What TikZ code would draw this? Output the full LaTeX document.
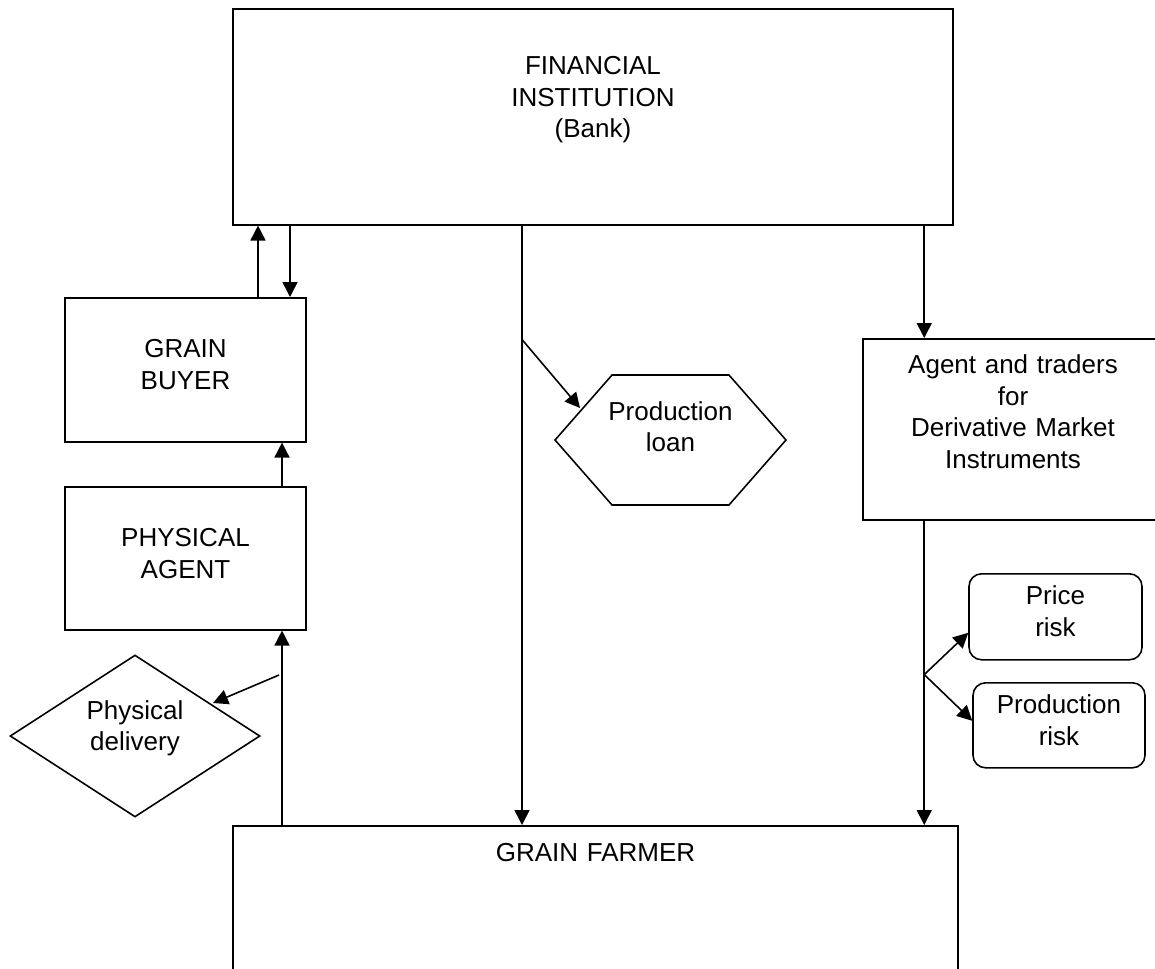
\documentclass[tikz,border=0pt]{standalone}
\usepackage{fontspec}
\setmainfont{Liberation Sans}
\usepackage{tikz}
\usetikzlibrary{shapes.geometric,shapes.symbols,arrows.meta,positioning}

\begin{document}
\begin{tikzpicture}[
  x=0.02cm, y=-0.02cm,
  box/.style={draw, line width=0.9pt, inner sep=0pt, align=center,
    font=\fontsize{14.8}{17.9}\selectfont},
  tdims/.style n args={2}{text height=#1, text depth=#2},
  arr/.style={-{Triangle[length=0.3cm,width=0.3cm]}, line width=0.9pt}
]
  \useasboundingbox (0,0) rectangle (1155,968);
  \clip (0,0) rectangle (1155,968);

  % Boxes
  \node[box, anchor=north, minimum width=14.4cm, text width=6cm, tdims={1.32cm}{3cm}] (bank) at (593,8) {FINANCIAL\\INSTITUTION\\(Bank)};
  \node[box, anchor=north, minimum width=4.82cm, text width=4cm, tdims={1.2cm}{1.68cm}] (buyer) at (185.5,297) {GRAIN\\BUYER};
  \node[box, anchor=north, minimum width=4.82cm, text width=4cm, tdims={1.2cm}{1.66cm}] (agent) at (185.5,486) {PHYSICAL\\AGENT};
  \node[box, anchor=north, minimum width=14.5cm, text width=6cm, tdims={0.72cm}{4cm}] (farmer) at (595.5,825) {GRAIN FARMER};
  \node[box, anchor=north, minimum width=6cm, text width=5.6cm, tdims={0.7cm}{2.92cm}] (traders) at (1013,338) {Agent and traders\\for\\Derivative Market\\Instruments};

  % Other shapes
  \node[box, diamond, aspect=1.54, minimum width=5cm, minimum height=3.24cm, text width=2.1cm, tdims={0.4cm}{1.08cm}] (delivery) at (135,736) {Physical\\delivery};
  \node[box, signal, signal to=east and west, signal pointer angle=97.5, inner xsep=-0.5cm, minimum width=4.62cm, minimum height=2.6cm, text width=2.6cm, tdims={0.4cm}{1.2cm}] (loan) at (670.5,440) {Production\\loan};
  \node[box, anchor=north, rounded corners=0.25cm, minimum width=3.46cm, text width=3cm, tdims={0.62cm}{1.1cm}] (price) at (1055.5,573) {Price\\risk};
  \node[box, anchor=north, rounded corners=0.25cm, minimum width=3.44cm, text width=3cm, tdims={0.62cm}{1.08cm}] (prodrisk) at (1059,682) {Production\\risk};

  % Arrows
  \coordinate (upx) at ([shift={(72.5,0)}]buyer.north);
  \coordinate (downx) at ([shift={(104.5,0)}]buyer.north);
  \coordinate (agx) at ([shift={(96.5,0)}]agent.north);
  \coordinate (loanx) at ([shift={(-71,0)}]bank.south);
  \coordinate (derx) at ([shift={(62,0)}]traders.south west);
  \coordinate (lstart) at ([shift={(0,114)}]loanx);
  \coordinate (split) at ([shift={(0,154)}]derx);
  \coordinate (dstart) at ([shift={(-3,189)}]agx);

  \draw[arr] (upx) -- (upx |- bank.south);
  \draw[arr] (downx |- bank.south) -- (downx);
  \draw[arr] (agx) -- (agx |- buyer.south);
  \draw[arr] (agx |- farmer.north) -- (agx |- agent.south);
  \draw[arr] (dstart) -- ([shift={(78,-33)}]delivery.center);
  \draw[arr] (loanx) -- (loanx |- farmer.north);
  \draw[arr] (lstart) -- ([shift={(-90.5,-32)}]loan.center);
  \draw[arr] (derx |- bank.south) -- (derx |- traders.north);
  \draw[arr] (derx) -- (derx |- farmer.north);
  \draw[arr] (split) -- ([shift={(0,16)}]price.west);
  \draw[arr] (split) -- ([shift={(0,-4.5)}]prodrisk.west);
\end{tikzpicture}
\end{document}
